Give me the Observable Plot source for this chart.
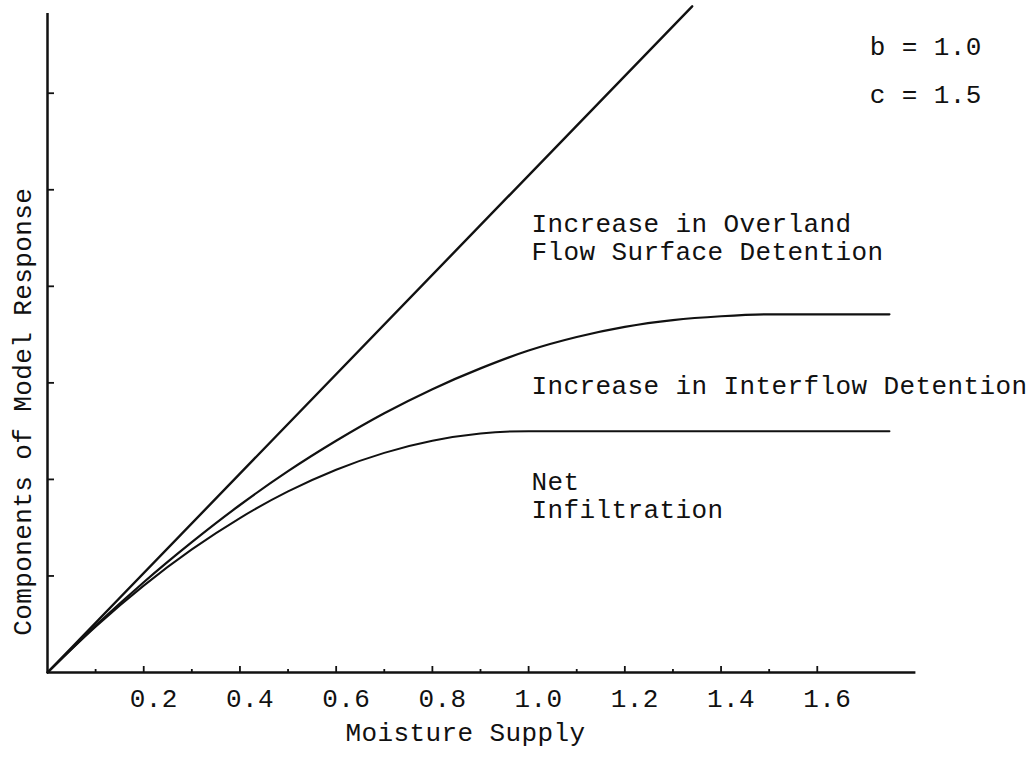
<!DOCTYPE html>
<html>
<head>
<meta charset="utf-8">
<script src="https://cdn.jsdelivr.net/npm/d3@7"></script>
<script src="https://cdn.jsdelivr.net/npm/@observablehq/plot@0.6"></script>
<style>
  body { margin: 0; background: #fff; }
</style>
</head>
<body>
<div id="chart"></div>
<script>
// Moisture supply (x) and the response components (y), b = 1.0, c = 1.5
const totalSupply = [0, 1.34];
const totalResponse = [0, 1.38];

const interflowSupply = [0, 0.1, 0.2, 0.3, 0.4, 0.5, 0.6, 0.7, 0.8, 0.9, 1.0, 1.1, 1.2, 1.3, 1.4, 1.5, 1.6, 1.75];
const interflowResponse = [0, 0.097, 0.187, 0.27, 0.347, 0.417, 0.48, 0.537, 0.587, 0.63, 0.667, 0.695, 0.716, 0.73, 0.738, 0.742, 0.742, 0.742];

const infiltrationSupply = [0, 0.1, 0.2, 0.3, 0.4, 0.5, 0.6, 0.7, 0.8, 0.9, 1.0, 1.2, 1.4, 1.6, 1.75];
const infiltrationResponse = [0, 0.095, 0.18, 0.255, 0.32, 0.375, 0.42, 0.455, 0.48, 0.495, 0.5, 0.5, 0.5, 0.5, 0.5];

// Axis ticks
const xTickValues = [0.1, 0.2, 0.3, 0.4, 0.5, 0.6, 0.7, 0.8, 0.9, 1.0, 1.1, 1.2, 1.3, 1.4, 1.5, 1.6];
const xTickLabels = [0.2, 0.4, 0.6, 0.8, 1.0, 1.2, 1.4, 1.6];
const yTickValues = [0.2, 0.4, 0.6, 0.8, 1.0, 1.2];

const parameterText = ["b = 1.0", "c = 1.5"];

const toPoints = (xs, ys) => xs.map((x, i) => ({x, y: ys[i]}));

const W = 1034, H = 757;
const mL = 47, mR = 121, mT = 1, mB = 85;
const xDomain = [0, 1.8], yDomain = [0, 1.39];
// data units per pixel, used for tick lengths drawn inward from the axes
const xUnit = (xDomain[1] - xDomain[0]) / (W - mL - mR);
const yUnit = (yDomain[1] - yDomain[0]) / (H - mT - mB);

const ink = "#111";
const font = 26;

const chart = Plot.plot({
  width: W,
  height: H,
  marginLeft: mL,
  marginRight: mR,
  marginTop: mT,
  marginBottom: mB,
  x: {domain: xDomain},
  y: {domain: yDomain, axis: null},
  style: {
    fontFamily: "'Liberation Mono', 'DejaVu Sans Mono', monospace",
    fontSize: font + "px",
    letterSpacing: "0.4px",
    background: "#fff",
    color: ink
  },
  marks: [
    // axis lines
    Plot.ruleY([0], {x1: 0, x2: 1.805, stroke: ink, strokeWidth: 2.5}),
    Plot.ruleX([0], {y1: 0, y2: 1.365, stroke: ink, strokeWidth: 2.5}),
    // inward ticks
    Plot.ruleX(xTickValues, {
      x: d => d, y1: 0,
      y2: d => (xTickLabels.some(v => Math.abs(v - d) < 1e-9) ? 6 : 3) * yUnit,
      stroke: ink, strokeWidth: 1.8
    }),
    Plot.ruleY(yTickValues, {y: d => d, x1: 0, x2: 7 * xUnit, stroke: ink, strokeWidth: 1.8}),
    Plot.axisX({
      ticks: xTickLabels,
      tickSize: 0,
      tickPadding: 16,
      tickFormat: d => d.toFixed(1),
      fontSize: font,
      dx: 10,
      label: null
    }),
    // curves
    Plot.line(toPoints(totalSupply, totalResponse), {x: "x", y: "y", stroke: ink, strokeWidth: 2.4, clip: false}),
    Plot.line(toPoints(interflowSupply, interflowResponse), {x: "x", y: "y", curve: "monotone-x", stroke: ink, strokeWidth: 2.2}),
    Plot.line(toPoints(infiltrationSupply, infiltrationResponse), {x: "x", y: "y", curve: "monotone-x", stroke: ink, strokeWidth: 2.0}),
    // region labels, one text per typed line
    Plot.text(["Increase in Overland", "Flow Surface Detention"], {
      x: 1.006, y: (d, i) => 0.913 - i * 0.058, text: d => d, textAnchor: "start", lineAnchor: "bottom",
      fontSize: font, fill: ink
    }),
    Plot.text(["Increase in Interflow Detention"], {
      x: 1.006, y: 0.577, text: d => d, textAnchor: "start", lineAnchor: "bottom",
      fontSize: font, fill: ink
    }),
    Plot.text(["Net", "Infiltration"], {
      x: 1.006, y: (d, i) => 0.378 - i * 0.057, text: d => d, textAnchor: "start", lineAnchor: "bottom",
      fontSize: font, fill: ink
    }),
    // parameters
    Plot.text(parameterText, {
      x: 1.709, y: (d, i) => 1.28 - i * 0.1, text: d => d, textAnchor: "start",
      lineAnchor: "bottom", fontSize: font, fill: ink
    }),
    // axis titles
    Plot.text(["Moisture Supply"], {
      x: 0.869, y: -0.141, text: d => d, textAnchor: "middle", lineAnchor: "bottom",
      fontSize: font, fill: ink, clip: false
    }),
    Plot.text(["Components of Model Response"], {
      x: -0.035, y: 0.54, text: d => d, rotate: -90, textAnchor: "middle", lineAnchor: "bottom",
      fontSize: font, fill: ink, clip: false
    })
  ]
});

document.getElementById("chart").appendChild(chart);
</script>
</body>
</html>
